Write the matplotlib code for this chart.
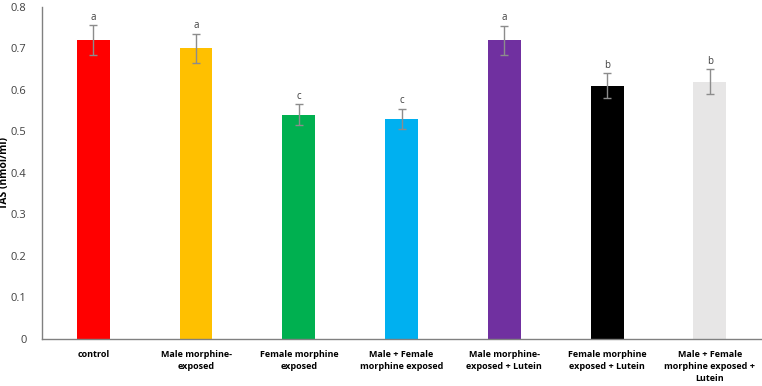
import matplotlib.pyplot as plt

# Data
groups = ['control', 'Male morphine-\nexposed', 'Female morphine\nexposed',
          'Male + Female\nmorphine exposed', 'Male morphine-\nexposed + Lutein',
          'Female morphine\nexposed + Lutein', 'Male + Female\nmorphine exposed +\nLutein']
tas = [0.72, 0.70, 0.54, 0.53, 0.72, 0.61, 0.62]
errors = [0.036, 0.035, 0.025, 0.025, 0.035, 0.03, 0.03]
letters = ['a', 'a', 'c', 'c', 'a', 'b', 'b']
colors = ['#FF0000', '#FFC000', '#00B050', '#00B0F0', '#7030A0', '#000000', '#E7E6E6']

plt.rcParams['font.family'] = ['Open Sans', 'DejaVu Sans']

fig = plt.figure(figsize=(7.62, 3.86), dpi=100)
ax = fig.add_axes([0.055, 0.122, 0.944, 0.86])

x = range(len(groups))
ax.bar(x, tas, width=0.32, color=colors)
ax.errorbar(x, tas, yerr=errors, fmt='none', ecolor='#8c8c8c', elinewidth=1,
            capsize=3, capthick=1)

# Significance letters above the error bars
for i, (v, e, l) in enumerate(zip(tas, errors, letters)):
    ax.text(i, v + e + 0.006, l, ha='center', va='bottom', fontsize=7, color='#404040')

ax.set_xlim(-0.5, len(groups) - 0.5)
ax.set_ylim(0, 0.8)
ax.set_yticks([0, 0.1, 0.2, 0.3, 0.4, 0.5, 0.6, 0.7, 0.8])
ax.set_yticklabels(['0', '0.1', '0.2', '0.3', '0.4', '0.5', '0.6', '0.7', '0.8'])
ax.set_xticks(list(x))
ax.set_xticklabels(groups, fontsize=6.5, fontweight='bold', linespacing=1.4)
ax.tick_params(axis='y', length=0, labelsize=8, pad=11, colors='#404040')
ax.tick_params(axis='x', length=0, pad=8)
ax.set_ylabel('TAS (nmol/ml)', fontsize=7.5, fontweight='bold')
ax.yaxis.set_label_coords(-0.044, 0.5)

for side in ['top', 'right']:
    ax.spines[side].set_visible(False)
for side in ['left', 'bottom']:
    ax.spines[side].set_color('#808080')
    ax.spines[side].set_linewidth(1)

fig.savefig('out.png', dpi=100)
